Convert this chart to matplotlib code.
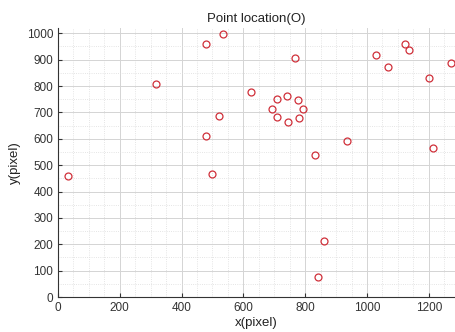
import numpy as np
import matplotlib
matplotlib.use('Agg')
import matplotlib.pyplot as plt
from matplotlib.ticker import MultipleLocator

plt.rcParams['font.family'] = ['Liberation Sans', 'DejaVu Sans']

# Point locations (pixel coordinates)
x_pts = [33, 317, 479, 535, 522, 479, 499, 767, 624, 708, 741, 777, 694, 793,
         709, 743, 779, 936, 832, 1030, 1067, 1122, 1135, 1201, 1271, 1214,
         860, 840]
y_pts = [459, 807, 961, 997, 686, 610, 467, 908, 777, 749, 763, 748, 714, 714,
         681, 665, 678, 593, 537, 919, 872, 958, 938, 832, 886, 564,
         213, 76]

fig = plt.figure(figsize=(4.55, 3.32), dpi=100)
ax = fig.add_axes([0.1275, 0.1054, 0.8725, 0.8103])

ax.plot(x_pts, y_pts, 'o', markerfacecolor='none', markeredgecolor='#d0303a',
        markersize=5, markeredgewidth=0.9)

ax.set_xlim(0, 1285)
ax.set_ylim(0, 1020)
ax.xaxis.set_major_locator(MultipleLocator(200))
ax.yaxis.set_major_locator(MultipleLocator(100))
ax.xaxis.set_minor_locator(MultipleLocator(50))
ax.yaxis.set_minor_locator(MultipleLocator(50))

ax.grid(True, which='major', color='#d4d4d4', linewidth=0.7)
ax.grid(True, which='minor', color='#dcdcdc', linewidth=0.6, linestyle=':')
ax.set_axisbelow(True)

ax.spines['top'].set_visible(False)
ax.spines['right'].set_visible(False)
ax.spines['left'].set_color('#333333')
ax.spines['bottom'].set_color('#333333')
ax.tick_params(which='both', direction='in', labelsize=8.5, labelcolor='#333333',
               color='#333333', length=3)
ax.tick_params(which='minor', length=0)

ax.set_xlabel('x(pixel)', fontsize=9.5, color='#222222', labelpad=2)
ax.set_ylabel('y(pixel)', fontsize=9.5, color='#222222', labelpad=4)
ax.set_title('Point location(O)', fontsize=9.5, color='#222222', pad=4)

fig.savefig('out.png', dpi=100)
